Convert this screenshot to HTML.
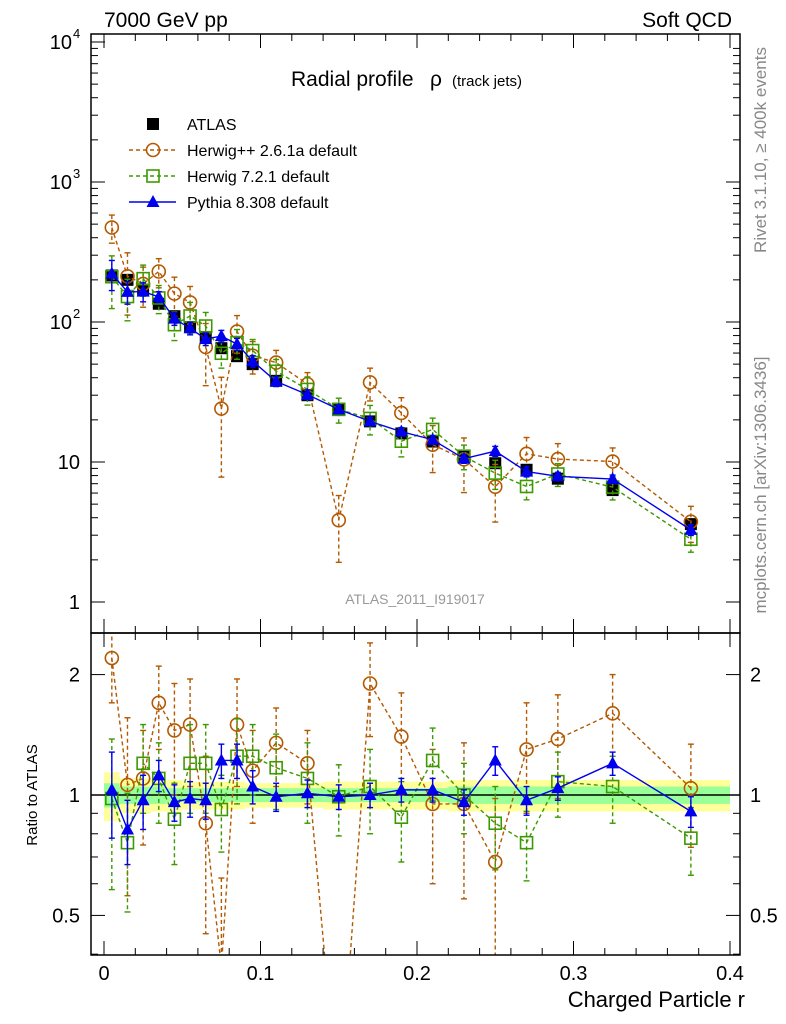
<!DOCTYPE html>
<html><head><meta charset="utf-8"><style>
html,body{margin:0;background:#fff;overflow:hidden;width:786px;height:1024px;}
svg{display:block;font-family:"Liberation Sans",sans-serif;}
</style></head><body>
<svg id="c" width="786" height="1024" xmlns="http://www.w3.org/2000/svg"></svg>
<script>
const xs=[0.005,0.015,0.025,0.035,0.045,0.055,0.065,0.075,0.085,0.095,0.11,0.13,0.15,0.17,0.19,0.21,0.23,0.25,0.27,0.29,0.325,0.375];
const xlo=[0,0.01,0.02,0.03,0.04,0.05,0.06,0.07,0.08,0.09,0.1,0.12,0.14,0.16,0.18,0.2,0.22,0.24,0.26,0.28,0.3,0.35];
const xhi=[0.01,0.02,0.03,0.04,0.05,0.06,0.07,0.08,0.09,0.1,0.12,0.14,0.16,0.18,0.2,0.22,0.24,0.26,0.28,0.3,0.35,0.4];
const atlas=[215,200,170,135,110,92,78,65,57,50,38,30,24,19.5,16,14,11,9.8,8.8,7.6,6.3,3.6];
const statBand=[0.07,0.05,0.05,0.05,0.04,0.04,0.04,0.04,0.04,0.04,0.04,0.04,0.04,0.04,0.04,0.04,0.05,0.05,0.05,0.05,0.05,0.05];
const totBand=[0.14,0.1,0.1,0.09,0.09,0.08,0.08,0.08,0.08,0.07,0.07,0.07,0.08,0.08,0.08,0.08,0.09,0.09,0.09,0.09,0.09,0.09];
const hppRatio=[2.2,1.06,1.1,1.7,1.45,1.5,0.85,0.37,1.5,1.15,1.35,1.2,0.16,1.9,1.4,0.95,0.95,0.68,1.3,1.38,1.6,1.04];
const hppErr=[0.5,0.5,0.35,0.4,0.45,0.45,0.4,0.25,0.45,0.3,0.3,0.25,0.08,0.5,0.4,0.35,0.4,0.3,0.4,0.4,0.4,0.3];
const h7Ratio=[0.98,0.76,1.2,1.1,0.87,1.2,1.2,0.92,1.25,1.25,1.17,1.1,0.99,1.05,0.88,1.22,1.0,0.85,0.76,1.08,1.05,0.78];
const h7Err=[0.4,0.25,0.3,0.25,0.2,0.3,0.3,0.2,0.3,0.25,0.25,0.25,0.2,0.25,0.2,0.25,0.2,0.2,0.15,0.2,0.2,0.15];
const pyRatio=[1.03,0.82,0.97,1.12,0.96,0.98,0.97,1.22,1.22,1.05,0.99,1.01,0.99,1.0,1.03,1.03,0.96,1.22,0.97,1.04,1.2,0.91];
const pyErr=[0.25,0.15,0.15,0.1,0.1,0.1,0.1,0.12,0.12,0.1,0.08,0.08,0.07,0.07,0.07,0.07,0.07,0.1,0.08,0.07,0.08,0.08];
const xTicks=[0,0.1,0.2,0.3,0.4], xTickLabels=["0","0.1","0.2","0.3","0.4"];

const S=document.getElementById('c'),NS="http://www.w3.org/2000/svg";
const L=91,R=740,T=34,M=633,B=955;
const X=v=>104+v*(730-104)/0.4;
const Y=v=>602-140*Math.log10(v);
const YR=v=>795-400*Math.log10(v);
function el(t,a,p){const e=document.createElementNS(NS,t);for(const k in a)e.setAttribute(k,a[k]);(p||S).appendChild(e);return e;}
function txt(s,x,y,a,p){const e=el('text',Object.assign({x:x,y:y,'font-size':20,fill:'#000'},a),p);e.textContent=s;return e;}
const defs=el('defs',{});
const c1=el('clipPath',{id:'cm'},defs);el('rect',{x:L,y:T,width:R-L,height:M-T},c1);
const c2=el('clipPath',{id:'cr'},defs);el('rect',{x:L,y:M,width:R-L,height:B-M},c2);

const gb=el('g',{'clip-path':'url(#cr)'});


xs.forEach((x,i)=>{
  el('rect',{x:X(xlo[i]),width:X(xhi[i])-X(xlo[i]),y:YR(1+totBand[i]),height:YR(1-totBand[i])-YR(1+totBand[i]),fill:'#ffff99'},gb);
});
xs.forEach((x,i)=>{
  el('rect',{x:X(xlo[i]),width:X(xhi[i])-X(xlo[i]),y:YR(1+statBand[i]),height:YR(1-statBand[i])-YR(1+statBand[i]),fill:'#99ff99'},gb);
});
el('line',{x1:L,x2:R,y1:YR(1),y2:YR(1),stroke:'#000','stroke-width':1.5});

function marker(g,type,x,y,col){
  if(type==='sq')el('rect',{x:x-6,y:y-6,width:12,height:12,fill:'#000'},g);
  if(type==='circ')el('circle',{cx:x,cy:y,r:6.5,fill:'none',stroke:col,'stroke-width':1.6},g);
  if(type==='osq')el('rect',{x:x-6,y:y-6,width:12,height:12,fill:'none',stroke:col,'stroke-width':1.6},g);
  if(type==='tri')el('polygon',{points:`${x},${y-7} ${x-6.5},${y+5} ${x+6.5},${y+5}`,fill:col},g);
}
function series(name,ratio,err,col,type,dash,ratioPanel){
  const g=el('g',{'clip-path':ratioPanel?'url(#cr)':'url(#cm)'});
  
  
  const f=ratioPanel?(i,r)=>YR(r):(i,r)=>Y(r*atlas[i]);
  let pts=xs.map((x,i)=>X(x)+','+f(i,ratio[i])).join(' ');
  const da=dash?'4,3':'none';
  el('polyline',{points:pts,fill:'none',stroke:col,'stroke-width':1.4,'stroke-dasharray':da},g);
  xs.forEach((x,i)=>{
    const hi=f(i,ratio[i]+err[i]), lo=f(i,Math.max(ratio[i]-err[i],0.01));
    el('line',{x1:X(x),x2:X(x),y1:hi,y2:lo,stroke:col,'stroke-width':1.4,'stroke-dasharray':da},g);
    el('line',{x1:X(x)-3,x2:X(x)+3,y1:hi,y2:hi,stroke:col,'stroke-width':1.4},g);
    el('line',{x1:X(x)-3,x2:X(x)+3,y1:lo,y2:lo,stroke:col,'stroke-width':1.4},g);
    marker(g,type,X(x),f(i,ratio[i]),col);
  });
}
const ga=el('g',{'clip-path':'url(#cm)'});


xs.forEach((x,i)=>{
  el('line',{x1:X(x),x2:X(x),y1:Y(atlas[i]*(1+totBand[i])),y2:Y(atlas[i]*(1-totBand[i])),stroke:'#000','stroke-width':1.2},ga);
  marker(ga,'sq',X(x),Y(atlas[i]));
});
const HC='#b35900',GC='#3d9900',BC='#0000ee';
series('herwigpp-series',hppRatio,hppErr,HC,'circ',true,false);
series('herwig7-series',h7Ratio,h7Err,GC,'osq',true,false);
series('pythia-series',pyRatio,pyErr,BC,'tri',false,false);
series('herwigpp-ratio',hppRatio,hppErr,HC,'circ',true,true);
series('herwig7-ratio',h7Ratio,h7Err,GC,'osq',true,true);
series('pythia-ratio',pyRatio,pyErr,BC,'tri',false,true);

el('rect',{x:L,y:T,width:R-L,height:M-T,fill:'none',stroke:'#000','stroke-width':1.5});
el('rect',{x:L,y:M,width:R-L,height:B-M,fill:'none',stroke:'#000','stroke-width':1.5});
for(let k=0;k<=40;k+=2){const v=k/100,x=X(v);const maj=k%10===0;const len=maj?14:7;
 [T,M].forEach(y0=>el('line',{x1:x,x2:x,y1:y0,y2:y0+len,stroke:'#000','stroke-width':1}));
 [M,B].forEach(y0=>el('line',{x1:x,x2:x,y1:y0,y2:y0-len,stroke:'#000','stroke-width':1}));
}
xTicks.forEach((v,i)=>txt(xTickLabels[i],X(v),980,{'text-anchor':'middle'}));
for(let d=0;d<4;d++)for(let m=1;m<10;m++){const v=m*Math.pow(10,d),y=Y(v);if(y<T)continue;const len=m===1?14:7;
 el('line',{x1:L,x2:L+len,y1:y,y2:y,stroke:'#000'});el('line',{x1:R,x2:R-len,y1:y,y2:y,stroke:'#000'});}
el('line',{x1:L,x2:L+14,y1:Y(10000),y2:Y(10000),stroke:'#000'});
txt('1',80,609,{'text-anchor':'end'});txt('10',80,469,{'text-anchor':'end'});
txt('10',72,329,{'text-anchor':'end'});txt('2',73,318,{'font-size':13});
txt('10',72,189,{'text-anchor':'end'});txt('3',73,178,{'font-size':13});
txt('10',72,49,{'text-anchor':'end'});txt('4',73,38,{'font-size':13});
[0.4,0.5,0.6,0.7,0.8,0.9,1,2].forEach(v=>{const y=YR(v);if(y>B)return;const len=(v===0.5||v===1||v===2)?14:7;
 el('line',{x1:L,x2:L+len,y1:y,y2:y,stroke:'#000'});el('line',{x1:R,x2:R-len,y1:y,y2:y,stroke:'#000'});});
[[0.5,'0.5'],[1,'1'],[2,'2']].forEach(([v,s])=>{txt(s,80,YR(v)+7,{'text-anchor':'end'});txt(s,750,YR(v)+7,{});});
txt('7000 GeV pp',104,27,{'font-size':21});
txt('Soft QCD',732,27,{'font-size':21,'text-anchor':'end'});
const tt=txt('Radial profile',291,86,{'font-size':21});

txt('ρ',430,86,{'font-size':21});txt('(track jets)',452,86,{'font-size':15});
txt('ATLAS_2011_I919017',415,604,{'font-size':14,fill:'#999','text-anchor':'middle'});
txt('Charged Particle r',745,1007,{'font-size':22,'text-anchor':'end'});
txt('Ratio to ATLAS',37,795,{'font-size':15,'text-anchor':'middle',transform:'rotate(-90 37 795)'});
txt('Rivet 3.1.10, ≥ 400k events',766,150,{'font-size':17,fill:'#888','text-anchor':'middle',transform:'rotate(-90 766 150)'});
txt('mcplots.cern.ch [arXiv:1306.3436]',766,485,{'font-size':17,fill:'#888','text-anchor':'middle',transform:'rotate(-90 766 485)'});
const lg=el('g',{});


const ents=[['ATLAS','#000','sq',false],['Herwig++ 2.6.1a default',HC,'circ',true],['Herwig 7.2.1 default',GC,'osq',true],['Pythia 8.308 default',BC,'tri',false]];
ents.forEach((e,i)=>{const y=124+26*i;
 if(i>0)el('line',{x1:129,x2:176,y1:y,y2:y,stroke:e[1],'stroke-width':1.4,'stroke-dasharray':e[3]?'4,3':'none'},lg);
 marker(lg,e[2],153,y,e[1]);
 txt(e[0],187,y+6,{'font-size':16},lg);});
</script>
</body></html>
